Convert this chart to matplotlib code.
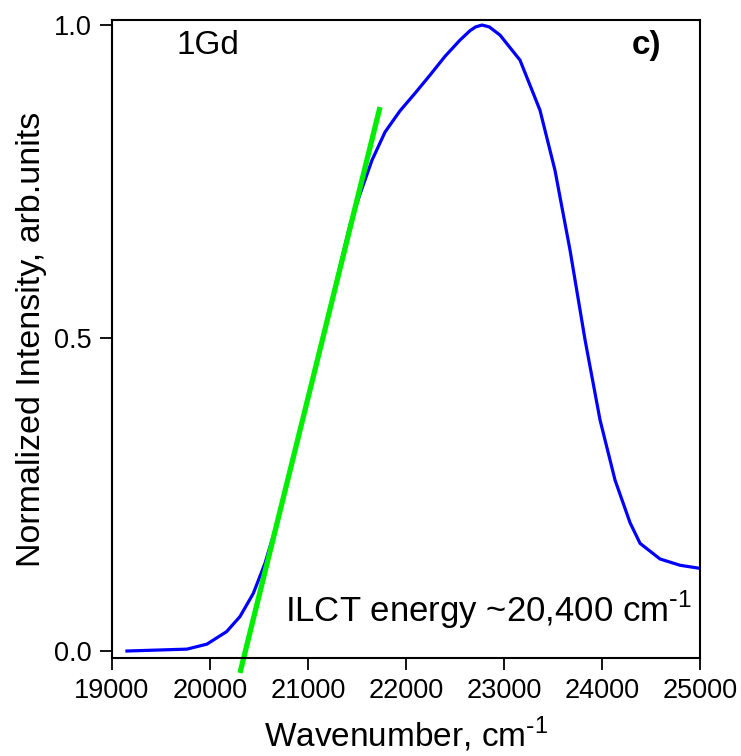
import numpy as np
import matplotlib
matplotlib.use("Agg")
import matplotlib.pyplot as plt

plt.rcParams['font.family'] = ['Liberation Sans', 'DejaVu Sans']

# absorption spectrum (normalized)
wavenumber = [19153, 19765, 19969, 20170, 20306, 20442, 20561, 20663, 20816,
              21122, 21429, 21531, 21653, 21786, 21939, 22092, 22245, 22398,
              22551, 22653, 22710, 22776, 22850, 22959, 23163, 23367, 23520,
              23673, 23827, 23980, 24133, 24286, 24388, 24592, 24796, 25000]
intensity = [0.0, 0.003, 0.011, 0.031, 0.055, 0.092, 0.14, 0.193, 0.289,
             0.481, 0.681, 0.73, 0.784, 0.829, 0.863, 0.891, 0.92, 0.95,
             0.976, 0.991, 0.997, 1.0, 0.997, 0.984, 0.944, 0.864, 0.768,
             0.641, 0.497, 0.369, 0.273, 0.205, 0.172, 0.147, 0.137, 0.132]

# tangent line at the absorption edge
fit_x = [20306, 21735]
fit_y = [-0.035, 0.869]

x_ticks = [19000, 20000, 21000, 22000, 23000, 24000, 25000]
y_ticks = [0.0, 0.5, 1.0]

fig = plt.figure(figsize=(7.41, 7.56), dpi=100)
ax = fig.add_axes([0.1511, 0.1296, 0.7936, 0.8439])

ax.plot(wavenumber, intensity, color='#0000ff', linewidth=2.3)
ax.plot(fit_x, fit_y, color='#00ee00', linewidth=3.8, clip_on=False, solid_capstyle='butt')

ax.set_xlim(19000, 25000)
ax.set_ylim(-0.0112, 1.008)
ax.set_xticks(x_ticks)
ax.set_yticks(y_ticks)
ax.set_yticklabels(['0.0', '0.5', '1.0'])

ax.tick_params(direction='out', length=8.5, width=1.3, labelsize=19.5, pad=6)
for s in ax.spines.values():
    s.set_linewidth(1.5)

sup = '$^{\\mathregular{\\text{-}1}}$'
ax.set_xlabel('Wavenumber, cm' + sup, fontsize=24, labelpad=8)
ax.set_ylabel('Normalized Intensity, arb.units', fontsize=24.5, labelpad=5)

ax.text(19663, 0.968, '1Gd', fontsize=24, va='center', ha='left')
ax.text(24600, 0.968, 'c)', fontsize=24, fontweight='bold', va='center', ha='right')
ax.text(20770, 0.066, 'ILCT energy ~20,400 cm' + sup, fontsize=25,
        va='center', ha='left')

fig.savefig('out.png', dpi=100)
